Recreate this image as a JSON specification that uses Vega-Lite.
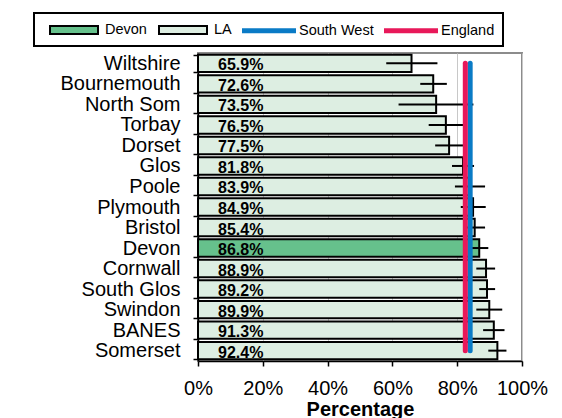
{
  "$schema": "https://vega.github.io/schema/vega-lite/v6.json",
  "width": 324,
  "height": 308,
  "autosize": "none",
  "padding": {"left": 198, "top": 53, "right": 40, "bottom": 57},
  "background": "white",
  "config": {
    "font": "Liberation Sans",
    "view": {"stroke": "#8c8c8c", "strokeWidth": 2},
    "legend": {
      "title": null, "orient": "none", "legendX": -164, "legendY": -40,
      "direction": "horizontal", "columns": 4, "padding": 8,
      "strokeColor": "black", "strokeWidth": 2, "labelFontSize": 14.5, "labelColor": "black",
      "symbolSize": 256, "labelOffset": 45, "columnPadding": 4,
      "symbolStrokeWidth": 2, "symbolOpacity": 1
    }
  },
  "datasets": {
    "las": [
      {"lad": "Wiltshire", "value": 0.659, "lo": 0.581, "hi": 0.739, "cat": "LA"},
      {"lad": "Bournemouth", "value": 0.726, "lo": 0.686, "hi": 0.768, "cat": "LA"},
      {"lad": "North Som", "value": 0.735, "lo": 0.619, "hi": 0.850, "cat": "LA"},
      {"lad": "Torbay", "value": 0.765, "lo": 0.712, "hi": 0.818, "cat": "LA"},
      {"lad": "Dorset", "value": 0.775, "lo": 0.732, "hi": 0.818, "cat": "LA"},
      {"lad": "Glos", "value": 0.818, "lo": 0.784, "hi": 0.852, "cat": "LA"},
      {"lad": "Poole", "value": 0.839, "lo": 0.793, "hi": 0.886, "cat": "LA"},
      {"lad": "Plymouth", "value": 0.849, "lo": 0.811, "hi": 0.888, "cat": "LA"},
      {"lad": "Bristol", "value": 0.854, "lo": 0.822, "hi": 0.886, "cat": "LA"},
      {"lad": "Devon", "value": 0.868, "lo": 0.840, "hi": 0.896, "cat": "Devon"},
      {"lad": "Cornwall", "value": 0.889, "lo": 0.859, "hi": 0.917, "cat": "LA"},
      {"lad": "South Glos", "value": 0.892, "lo": 0.868, "hi": 0.917, "cat": "LA"},
      {"lad": "Swindon", "value": 0.899, "lo": 0.859, "hi": 0.939, "cat": "LA"},
      {"lad": "BANES", "value": 0.913, "lo": 0.880, "hi": 0.946, "cat": "LA"},
      {"lad": "Somerset", "value": 0.924, "lo": 0.896, "hi": 0.952, "cat": "LA"}
    ],
    "refs": [
      {"cat": "South West", "value": 0.840, "lad": "Wiltshire"},
      {"cat": "South West", "value": 0.840, "lad": "Somerset"},
      {"cat": "England", "value": 0.825, "lad": "Wiltshire"},
      {"cat": "England", "value": 0.825, "lad": "Somerset"}
    ]
  },
  "layer": [
    {
      "data": {"name": "las"},
      "mark": {"type": "bar", "strokeWidth": 2},
      "encoding": {
        "y": {
          "field": "lad", "type": "nominal", "sort": null,
          "scale": {
            "domain": ["Wiltshire", "Bournemouth", "North Som", "Torbay", "Dorset", "Glos", "Poole", "Plymouth", "Bristol", "Devon", "Cornwall", "South Glos", "Swindon", "BANES", "Somerset"],
            "paddingInner": 0.15, "paddingOuter": 0.08
          },
          "axis": {
            "title": null, "labelFontSize": 20, "labelColor": "black", "labelPadding": 13,
            "tickBand": "extent", "tickSize": 5, "tickColor": "black", "tickWidth": 1.5,
            "domainColor": "black", "domainWidth": 1.5, "grid": false, "labelLimit": 300
          }
        },
        "x": {
          "field": "value", "type": "quantitative",
          "scale": {"domain": [0, 1]},
          "axis": {
            "title": "Percentage", "titleFontSize": 20, "titleFontWeight": "bold", "titleColor": "black",
            "format": ".0%", "values": [0, 0.2, 0.4, 0.6, 0.8, 1],
            "labelFontSize": 20, "labelColor": "black", "labelFlush": false, "labelPadding": 12,
            "tickColor": "black", "tickSize": 5, "tickWidth": 1.5,
            "domainColor": "black", "domainWidth": 1.5,
            "gridColor": "#c8c8c8", "gridWidth": 1, "titlePadding": 1
          }
        },
        "fill": {
          "field": "cat", "type": "nominal",
          "scale": {"domain": ["Devon", "LA", "South West", "England"], "range": ["#66c18c", "#ddeee2", "#0a7bc6", "#e8185a"]},
          "legend": {"title": null}
        },
        "stroke": {
          "field": "cat", "type": "nominal",
          "scale": {"domain": ["Devon", "LA", "South West", "England"], "range": ["black", "black", "#0a7bc6", "#e8185a"]},
          "legend": {"title": null}
        }
      }
    },
    {
      "data": {"name": "las"},
      "mark": {"type": "rule", "color": "black", "strokeWidth": 2},
      "encoding": {
        "y": {"field": "lad", "type": "nominal", "sort": null},
        "x": {"field": "lo", "type": "quantitative"},
        "x2": {"field": "hi"}
      }
    },
    {
      "data": {"name": "refs"},
      "mark": {"type": "line", "strokeWidth": 5, "strokeCap": "round"},
      "encoding": {
        "y": {"field": "lad", "type": "nominal", "sort": null},
        "x": {"field": "value", "type": "quantitative"},
        "stroke": {"field": "cat", "type": "nominal", "legend": {"title": null}}
      }
    },
    {
      "data": {"name": "refs"},
      "mark": {"type": "point", "filled": true, "size": 0, "opacity": 1},
      "encoding": {
        "y": {"field": "lad", "type": "nominal", "sort": null},
        "x": {"field": "value", "type": "quantitative"},
        "shape": {
          "field": "cat", "type": "nominal",
          "scale": {"domain": ["Devon", "LA", "South West", "England"], "range": ["M-0.125,-0.5H5.875V0.5H-0.125Z", "M-0.125,-0.5H5.875V0.5H-0.125Z", "M-0.25,-0.18H6.25V0.18H-0.25Z", "M-0.25,-0.18H6.25V0.18H-0.25Z"]},
          "legend": {"title": null}
        }
      }
    },
    {
      "data": {"name": "las"},
      "mark": {"type": "text", "fontWeight": "bold", "fontSize": 16, "align": "left", "baseline": "middle", "dx": 20, "dy": 2, "color": "black"},
      "encoding": {
        "y": {"field": "lad", "type": "nominal", "sort": null},
        "x": {"datum": 0},
        "text": {"field": "value", "type": "quantitative", "format": ".1%"}
      }
    }
  ]
}
